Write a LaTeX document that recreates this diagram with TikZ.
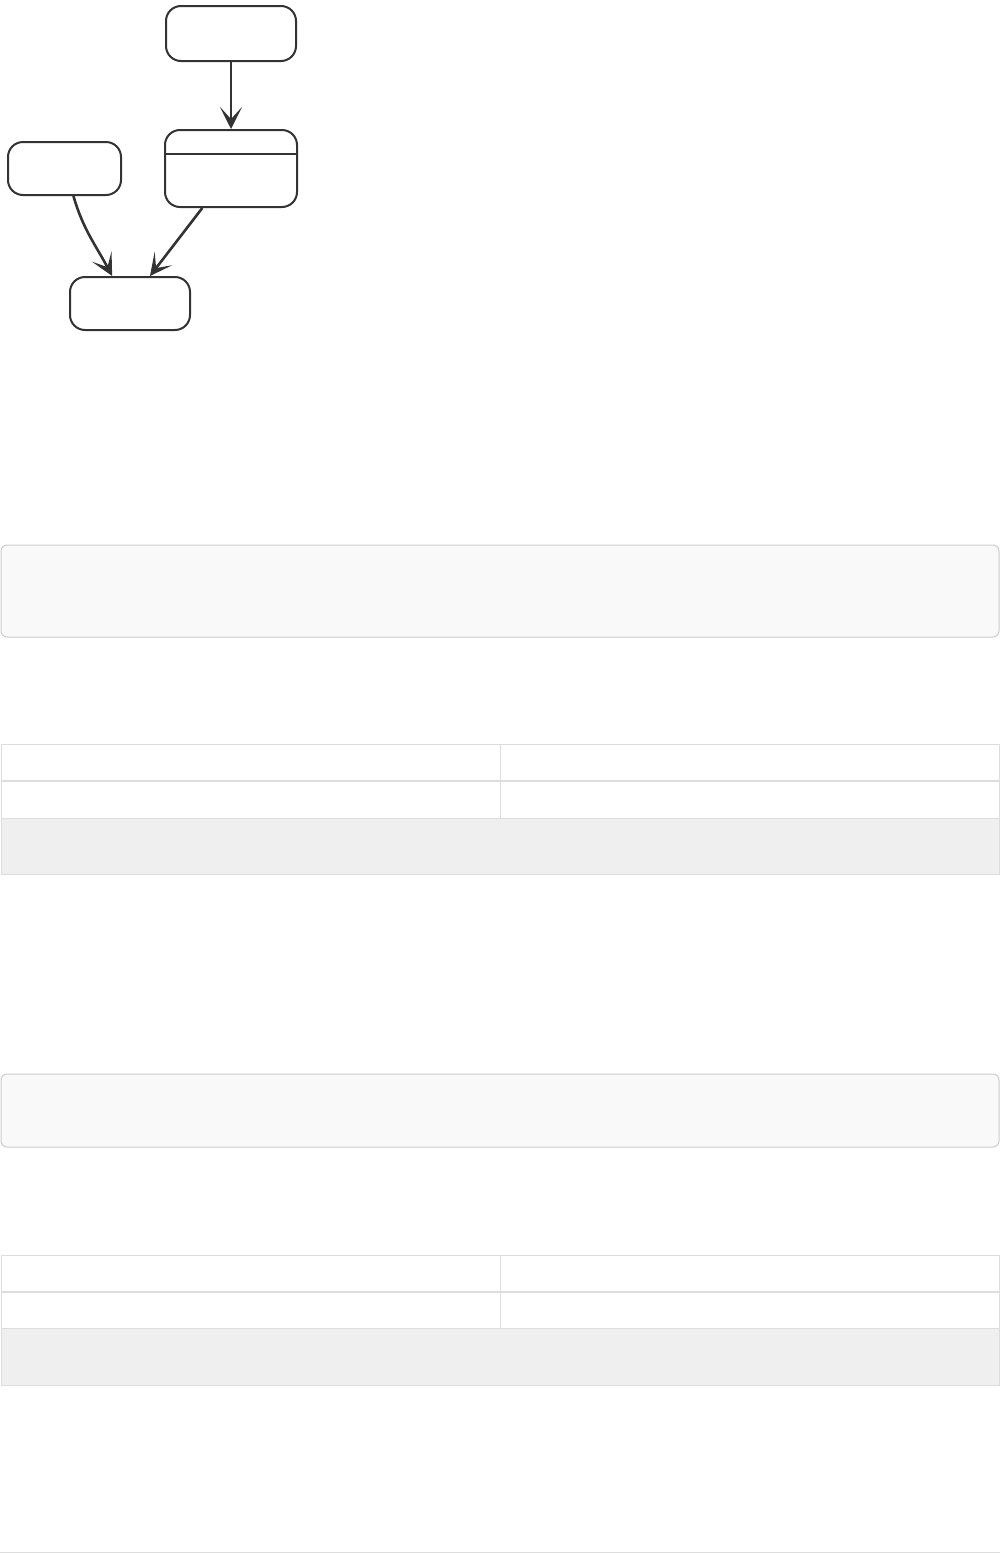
\documentclass[tikz,border=0pt]{standalone}
\usepackage{xcolor}
\usepackage{tikz}
\usetikzlibrary{positioning,calc,arrows.meta}
\definecolor{inkgrey}{HTML}{333333}
\definecolor{panelfill}{HTML}{F9F9F9}
\definecolor{panelline}{HTML}{CCCCCC}
\definecolor{tableline}{HTML}{DDDDDD}
\definecolor{footfill}{HTML}{EFEFEF}
\tikzset{
  statebox/.style={draw=inkgrey, line width=1pt, rounded corners=7.5pt, fill=white, inner sep=0pt},
  trans/.style={draw=inkgrey, line width=1.3pt, -{Stealth[length=11pt, width=11pt, inset=6pt]}},
  panelbox/.style={draw=panelline, fill=panelfill, line width=0.5pt, rounded corners=3pt},
  tablerule/.style={draw=tableline, line width=0.5pt}
}
\begin{document}
\begin{tikzpicture}[x=0.5pt, y=-0.5pt]
        \useasboundingbox (0,0) rectangle (1000,1553);
        % state diagram
        \node[statebox, minimum width=65pt, minimum height=27.5pt] (topstate) at (231,33.5) {};
        \node[statebox, minimum width=66pt, minimum height=38.5pt] (compstate) at (231,168.5) {};
        \node[statebox, minimum width=56.5pt, minimum height=26.5pt] (leftstate) at (64.5,168.5) {};
        \node[statebox, minimum width=60pt, minimum height=26.5pt] (endstate) at (130,303.5) {};
        \draw[draw=inkgrey, line width=1pt] ($(compstate.north west)+(0,25)$) -- ($(compstate.north east)+(0,25)$);
        \draw[trans] (topstate.south) -- (compstate.north);
        \draw[trans] (leftstate.-72) to[out=-74, in=118] (endstate.123);
        \draw[trans] (compstate.-126) -- (endstate.54);
        % first block
        \draw[panelbox] (1,545) rectangle (999,637);
        \fill[white] (1,744) rectangle (999,818);
        \fill[footfill] (1,818) rectangle (999,874);
        \draw[tablerule] (1,744) rectangle (999,874);
        \draw[tablerule] (500,744) -- (500,818);
        \draw[draw=tableline, line width=1.4pt] (1,781) -- (999,781);
        \draw[tablerule] (1,818) -- (999,818);
        % second block
        \draw[panelbox] (1,1074) rectangle (999,1147);
        \fill[white] (1,1255) rectangle (999,1328);
        \fill[footfill] (1,1328) rectangle (999,1385);
        \draw[tablerule] (1,1255) rectangle (999,1385);
        \draw[tablerule] (500,1255) -- (500,1328);
        \draw[draw=tableline, line width=1.4pt] (1,1292) -- (999,1292);
        \draw[tablerule] (1,1328) -- (999,1328);
        % footer rule
        \draw[tablerule] (0,1552) -- (1000,1552);
    \end{tikzpicture}
\end{document}
